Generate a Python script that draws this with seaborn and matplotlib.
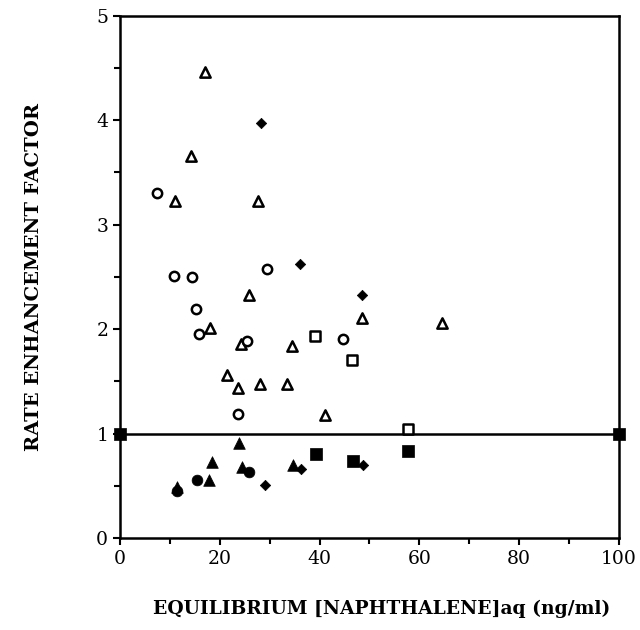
import numpy as np
import pandas as pd
import seaborn as sns
import matplotlib.pyplot as plt
from matplotlib.ticker import MultipleLocator

# open triangles
tri_open_x = [17, 14.2, 11, 27.6, 25.8, 18, 24.2, 21.4, 23.6, 28, 33.4, 34.4, 41, 48.6, 64.6]
tri_open_y = [4.46, 3.66, 3.23, 3.23, 2.33, 2.01, 1.86, 1.56, 1.44, 1.47, 1.47, 1.84, 1.18, 2.11, 2.06]
# open circles
circ_open_x = [7.4, 10.8, 14.4, 15.2, 15.8, 25.4, 29.4, 44.6, 23.6]
circ_open_y = [3.30, 2.51, 2.50, 2.19, 1.95, 1.89, 2.58, 1.91, 1.19]
# open squares
sq_open_x = [39, 46.6, 57.8]
sq_open_y = [1.93, 1.70, 1.04]
# filled diamonds
dia_x = [28.2, 36, 48.6, 29, 36.2, 48.8]
dia_y = [3.97, 2.62, 2.33, 0.51, 0.66, 0.70]
# filled triangles
tri_fill_x = [11.4, 17.8, 18.4, 23.8, 24.4, 34.6]
tri_fill_y = [0.49, 0.56, 0.73, 0.91, 0.68, 0.70]
# filled circles
circ_fill_x = [11.4, 15.4, 25.8]
circ_fill_y = [0.45, 0.56, 0.63]
# filled squares
sq_fill_x = [0, 39.2, 46.8, 57.8, 100]
sq_fill_y = [1.0, 0.80, 0.74, 0.83, 1.0]

sns.set_style("ticks")
plt.rcParams['font.family'] = ['DejaVu Serif']
plt.rcParams['text.color'] = 'black'
plt.rcParams['axes.labelcolor'] = 'black'
plt.rcParams['xtick.color'] = 'black'
plt.rcParams['ytick.color'] = 'black'
plt.rcParams['axes.edgecolor'] = 'black'

fig = plt.figure(figsize=(6.4, 6.3), dpi=100)
ax = fig.add_axes([0.1875, 0.146, 0.7795, 0.829])

ax.axhline(1.0, color="black", lw=1.8, zorder=1)

def pts(x, y, marker, filled, size):
    df = pd.DataFrame({"x": x, "y": y})
    if filled:
        sns.scatterplot(data=df, x="x", y="y", marker=marker, s=size, color="black",
                        edgecolor="black", linewidth=0.5, ax=ax, clip_on=False, zorder=3)
    else:
        sns.scatterplot(data=df, x="x", y="y", marker=marker, s=size, facecolor="white",
                        edgecolor="black", linewidth=1.8, ax=ax, clip_on=False, zorder=3)

pts(tri_open_x, tri_open_y, "^", False, 55)
pts(circ_open_x, circ_open_y, "o", False, 45)
pts(sq_open_x, sq_open_y, "s", False, 50)
pts(dia_x, dia_y, "D", True, 28)
pts(tri_fill_x, tri_fill_y, "^", True, 70)
pts(circ_fill_x, circ_fill_y, "o", True, 60)
pts(sq_fill_x, sq_fill_y, "s", True, 65)

ax.set_xlim(0, 100)
ax.set_ylim(0, 5)
ax.xaxis.set_major_locator(MultipleLocator(20))
ax.xaxis.set_minor_locator(MultipleLocator(10))
ax.yaxis.set_major_locator(MultipleLocator(1))
ax.yaxis.set_minor_locator(MultipleLocator(0.5))
ax.tick_params(which="both", direction="out", width=1.5, labelsize=13.5, top=False, right=False)
ax.tick_params(which="major", length=5)
ax.tick_params(which="minor", length=4)
for sp in ax.spines.values():
    sp.set_linewidth(1.8)

ax.set_xlabel("EQUILIBRIUM [NAPHTHALENE]aq (ng/ml)", fontsize=13.5, fontweight="bold")
ax.xaxis.set_label_coords(0.525, -0.118)
ax.set_ylabel("RATE ENHANCEMENT FACTOR", fontsize=14, fontweight="bold", labelpad=38)

fig.savefig("out.png", dpi=100)
